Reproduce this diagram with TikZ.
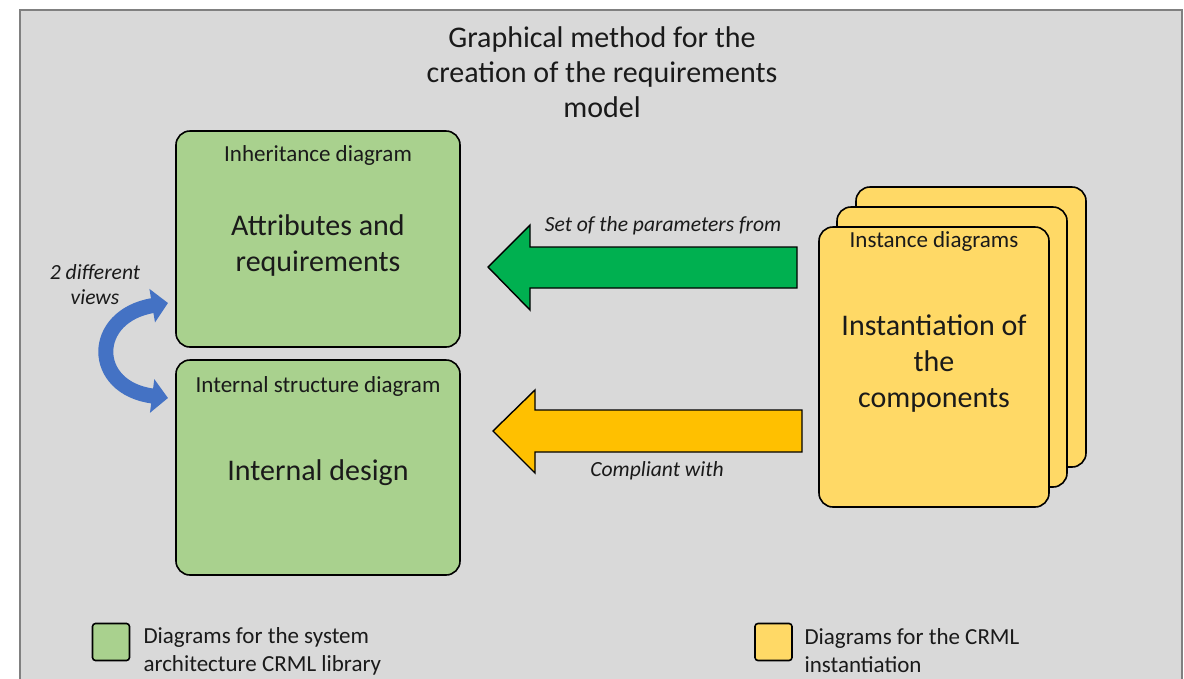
\documentclass[tikz,border=0pt]{standalone}
\usepackage{fontspec}
\setmainfont{Carlito}
\usetikzlibrary{arrows.meta}
\definecolor{panel}{HTML}{D9D9D9}
\definecolor{panelrule}{HTML}{808080}
\definecolor{libgreen}{HTML}{A9D18E}
\definecolor{instyellow}{HTML}{FFD966}
\definecolor{setgreen}{HTML}{00B050}
\definecolor{compamber}{HTML}{FFC000}
\definecolor{viewblue}{HTML}{4472C4}
\definecolor{ink}{HTML}{1A1A1A}
\begin{document}
\begin{tikzpicture}[x=1pt,y=-1pt,
  card/.style={draw=black, line width=1.6pt, rounded corners=14pt, inner sep=0pt},
  libcard/.style={card, fill=libgreen, minimum width=284pt},
  instcard/.style={card, fill=instyellow, minimum width=230pt, minimum height=280pt},
  head/.style={text=ink, font=\fontsize{23}{27}\selectfont},
  body/.style={text=ink, align=center, font=\fontsize{30}{36}\selectfont},
  note/.style={text=ink, align=center, font=\fontsize{21.6}{25}\itshape},
  legtext/.style={text=ink, align=left, anchor=west, font=\fontsize{23}{28}\selectfont},
  blockarrow/.style={draw=black, line width=1.4pt, line join=miter},
  swatch/.style={draw=black, line width=1.6pt, rounded corners=3pt, minimum width=37pt, minimum height=37pt, inner sep=0pt}
]
\useasboundingbox (0,0) rectangle (1184,678);
\clip (0,0) rectangle (1184,678);

% background panel
\fill[white] (0,0) rectangle (1184,678);
\draw[panelrule, fill=panel, line width=2pt] (20,10) rectangle (1182,700);

% title
\node[body, font=\fontsize{30}{35}\selectfont] (title) at (602,72)
  {Graphical method for the\\creation of the requirements\\model};

% library diagrams
\node[libcard, minimum height=216pt] (inh) at (318,239) {};
\node[libcard, minimum height=215pt] (int) at (318,467.5) {};
\node[head] (inhhead) at (318,155) {Inheritance diagram};
\node[body] (inhbody) at (318,245) {Attributes and\\requirements};
\node[head] (inthead) at (318,386) {Internal structure diagram};
\node[body] (intbody) at (318,473) {Internal design};

% stacked instance diagrams
\node[instcard] (inst3) at (971,327) {};
\node[instcard] (inst2) at (952,347) {};
\node[instcard] (inst1) at (934,367) {};
\node[head] (insthead) at (934,241) {Instance diagrams};
\node[body] (instbody) at (934,364) {Instantiation of\\the\\components};

% block arrows from the instances to the library
\filldraw[blockarrow, fill=setgreen]
  (797,247) -- (530,247) -- (530,225) -- (488,267) -- (530,310) -- (530,288) -- (797,288) -- cycle;
\node[note] (setlbl) at (663,226) {Set of the parameters from};
\filldraw[blockarrow, fill=compamber]
  (802,410) -- (535,410) -- (535,390) -- (493,431) -- (535,473) -- (535,452) -- (802,452) -- cycle;
\node[note] (complbl) at (657,471) {Compliant with};

% two views of the same library
\coordinate (viewtop) at (168,303);
\coordinate (viewbot) at (168,398);
\draw[viewblue, line width=15pt,
  {Triangle[width=33pt,length=16pt]}-{Triangle[width=33pt,length=16pt]}]
  (viewtop) .. controls (90,316) and (90,388) .. (viewbot);
\node[note] (viewlbl) at (95,285) {2 different\\views};

% legend
\node[swatch, fill=libgreen] (leglib) at (111,642) {};
\node[legtext] (leglibtxt) at (140,651) {Diagrams for the system\\architecture CRML library};
\node[swatch, fill=instyellow] (leginst) at (773.5,642) {};
\node[legtext] (leginsttxt) at (801,651) {Diagrams for the CRML\\instantiation};
\end{tikzpicture}
\end{document}
